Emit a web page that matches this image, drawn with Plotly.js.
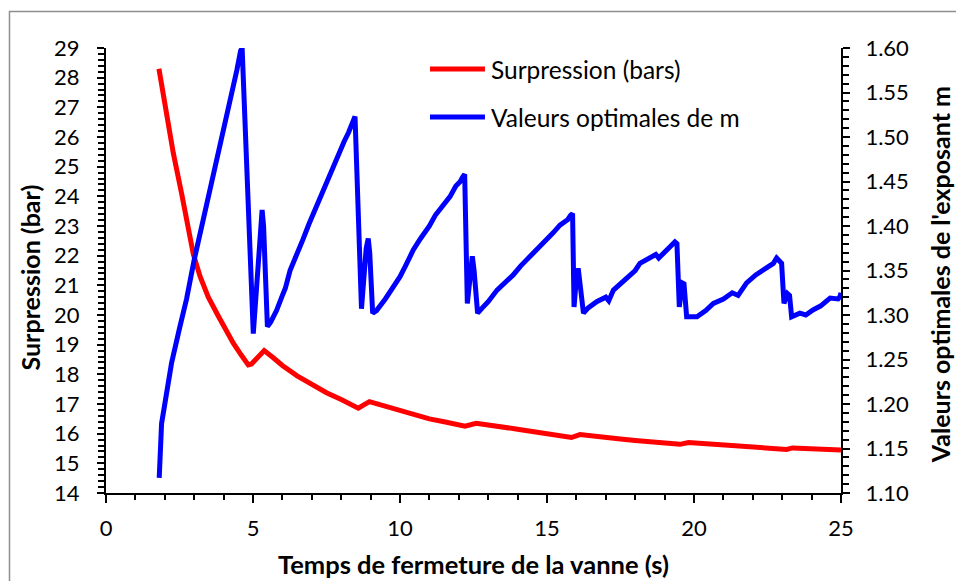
<!DOCTYPE html>
<html>
<head>
<meta charset="utf-8">
<script src="https://cdn.plot.ly/plotly-3.0.1.min.js"></script>
<style>html,body{margin:0;padding:0;background:#fff;}#chart{width:956px;height:581px;}</style>
</head>
<body>
<div id="chart"></div>
<script>
// Surpression (bar) - left axis
const surpTime = [1.8, 1.9, 2.06, 2.29, 2.57, 2.8, 2.97, 3.2, 3.48, 3.8, 4.1, 4.33, 4.6, 4.84, 4.95, 5.38, 5.7, 6.0, 6.5, 7.0, 7.5, 8.0, 8.3, 8.58, 8.96, 9.5, 10, 10.5, 11, 11.5, 12.0, 12.21, 12.59, 13, 13.5, 14, 14.5, 15, 15.5, 15.83, 16.12, 16.5, 17, 17.5, 18, 18.5, 19, 19.52, 19.81, 20.5, 21, 21.5, 22, 22.5, 23.15, 23.35, 24, 24.5, 25];
const surpValues = [28.3, 27.7, 26.9, 25.45, 24.1, 22.95, 22.05, 21.3, 20.6, 20.0, 19.45, 19.05, 18.65, 18.32, 18.35, 18.8, 18.55, 18.3, 17.95, 17.65, 17.38, 17.15, 17.0, 16.86, 17.08, 16.92, 16.78, 16.63, 16.5, 16.4, 16.3, 16.25, 16.35, 16.3, 16.22, 16.15, 16.07, 16.0, 15.93, 15.87, 15.97, 15.94, 15.88, 15.82, 15.77, 15.72, 15.68, 15.64, 15.70, 15.65, 15.6, 15.57, 15.54, 15.52, 15.47, 15.52, 15.49, 15.47, 15.45];

// Valeurs optimales de m - right axis
const mTime = [1.81, 1.84, 1.89, 2.0, 2.23, 2.5, 2.74, 3.0, 3.3, 3.6, 3.88, 4.2, 4.45, 4.58, 4.63, 5.01, 5.2, 5.31, 5.36, 5.49, 5.6, 5.8, 6.0, 6.1, 6.26, 6.5, 6.7, 6.9, 7.1, 7.3, 7.5, 7.7, 7.9, 8.1, 8.25, 8.35, 8.41, 8.47, 8.69, 8.85, 8.92, 8.97, 9.07, 9.2, 9.5, 9.8, 10.0, 10.2, 10.45, 10.7, 11.0, 11.2, 11.5, 11.7, 11.9, 12.05, 12.13, 12.2, 12.29, 12.42, 12.46, 12.52, 12.64, 12.8, 13.0, 13.3, 13.6, 13.85, 14.1, 14.4, 14.7, 14.99, 15.2, 15.44, 15.6, 15.7, 15.8, 15.87, 15.92, 16.02, 16.07, 16.12, 16.24, 16.4, 16.69, 17.0, 17.1, 17.26, 17.5, 17.8, 18.0, 18.16, 18.4, 18.7, 18.8, 19.07, 19.2, 19.35, 19.42, 19.5, 19.6, 19.66, 19.75, 20.1, 20.4, 20.66, 21.0, 21.3, 21.5, 21.79, 22.1, 22.47, 22.7, 22.81, 22.98, 23.06, 23.18, 23.25, 23.32, 23.6, 23.8, 24.06, 24.3, 24.63, 24.9, 24.97, 25.0];
const mValues = [1.117, 1.15, 1.178, 1.20, 1.246, 1.285, 1.318, 1.362, 1.405, 1.448, 1.489, 1.537, 1.575, 1.597, 1.600, 1.279, 1.37, 1.418, 1.40, 1.287, 1.292, 1.305, 1.322, 1.33, 1.35, 1.368, 1.385, 1.402, 1.418, 1.432, 1.448, 1.463, 1.48, 1.495, 1.505, 1.512, 1.519, 1.523, 1.307, 1.375, 1.386, 1.37, 1.302, 1.305, 1.318, 1.333, 1.343, 1.356, 1.373, 1.386, 1.40, 1.412, 1.424, 1.433, 1.445, 1.45, 1.455, 1.458, 1.313, 1.362, 1.366, 1.35, 1.302, 1.308, 1.315, 1.328, 1.337, 1.345, 1.355, 1.365, 1.374, 1.384, 1.392, 1.401, 1.405, 1.407, 1.412, 1.414, 1.309, 1.35, 1.35, 1.335, 1.302, 1.308, 1.315, 1.32, 1.316, 1.328, 1.335, 1.345, 1.35, 1.358, 1.363, 1.368, 1.364, 1.373, 1.378, 1.382, 1.38, 1.309, 1.336, 1.335, 1.298, 1.298, 1.305, 1.313, 1.318, 1.325, 1.322, 1.336, 1.345, 1.354, 1.358, 1.364, 1.358, 1.313, 1.324, 1.322, 1.298, 1.302, 1.300, 1.306, 1.31, 1.319, 1.318, 1.321, 1.325];

const names = ['Surpression (bars)', 'Valeurs optimales de m'];
const colors = ['#ff0000', '#0000ff'];
const xTitle = 'Temps de fermeture de la vanne (s)';
const yTitle = 'Surpression (bar)';
const y2Title = "Valeurs optimales de l'exposant m";

const FONT = 'Lato, "Open Sans", sans-serif';

const traces = [
  {x: surpTime, y: surpValues, name: names[0], type: 'scatter', mode: 'lines',
   line: {color: colors[0], width: 5}, yaxis: 'y', showlegend: false},
  {x: mTime, y: mValues, name: names[1], type: 'scatter', mode: 'lines',
   line: {color: colors[1], width: 5}, yaxis: 'y2', showlegend: false}
];

const tickFont = {family: FONT, size: 22, color: '#000'};
const titleFont = {family: FONT, size: 25, color: '#000', weight: 'bold'};
const xTitleFont = {family: FONT, size: 25.5, color: '#000', weight: 'bold'};
const legendFont = {family: FONT, size: 24.5, color: '#000'};

// legend (drawn as layout items, placed in paper coordinates)
const legY = [0.9528, 0.8449];
const legendShapes = names.map((n, i) => ({type: 'line', xref: 'paper', yref: 'paper',
  x0: 0.4408, x1: 0.5156, y0: legY[i], y1: legY[i], line: {color: colors[i], width: 5}}));
const legendText = names.map((n, i) => ({text: n, xref: 'paper', yref: 'paper', x: 0.5211, y: legY[i],
  xanchor: 'left', yanchor: 'middle', showarrow: false, font: legendFont}));

const layout = {
  width: 956, height: 581,
  margin: {l: 106, r: 115, t: 48, b: 88},
  paper_bgcolor: '#fff', plot_bgcolor: '#fff',
  showlegend: false,
  xaxis: {range: [0, 25], dtick: 5, tick0: 0, showgrid: false, zeroline: false,
          showline: true, linecolor: '#000', linewidth: 2,
          ticks: 'outside', ticklen: 8, tickwidth: 2, tickcolor: '#000',
          tickfont: tickFont, ticklabelstandoff: 7,
          minor: {dtick: 1, ticks: 'outside', ticklen: 5, tickwidth: 2, tickcolor: '#000', showgrid: false}},
  yaxis: {range: [14, 29], dtick: 1, tick0: 14, showgrid: false, zeroline: false,
          showline: true, linecolor: '#000', linewidth: 2,
          ticks: 'outside', ticklen: 7, tickwidth: 2, tickcolor: '#000',
          tickfont: tickFont, ticklabelstandoff: 13,
          minor: {dtick: 0.2, ticks: 'outside', ticklen: 6, tickwidth: 2, tickcolor: '#000', showgrid: false}},
  yaxis2: {range: [1.10, 1.60], dtick: 0.05, tick0: 1.10, tickformat: '.2f', overlaying: 'y', side: 'right',
          showgrid: false, zeroline: false,
          showline: true, linecolor: '#000', linewidth: 2,
          ticks: 'outside', ticklen: 7, tickwidth: 2, tickcolor: '#000',
          tickfont: tickFont, ticklabelstandoff: 11,
          minor: {dtick: 0.01, ticks: 'outside', ticklen: 6, tickwidth: 2, tickcolor: '#000', showgrid: false}},
  shapes: [
    {type: 'rect', xref: 'paper', yref: 'paper', x0: -0.1313, x1: 1.3, y0: -0.4, y1: 1.082,
     line: {color: '#8f8f8f', width: 1.5}, fillcolor: 'rgba(0,0,0,0)', layer: 'below'}
  ].concat(legendShapes),
  annotations: [
    {text: xTitle, xref: 'paper', yref: 'paper', x: 0.5, y: -0.16, xanchor: 'center', yanchor: 'middle',
     showarrow: false, font: xTitleFont},
    {text: yTitle, xref: 'paper', yref: 'paper', x: -0.103, y: 0.485, xanchor: 'center', yanchor: 'middle',
     textangle: -90, showarrow: false, font: titleFont},
    {text: y2Title, xref: 'paper', yref: 'paper', x: 1.135, y: 0.49, xanchor: 'center', yanchor: 'middle',
     textangle: -90, showarrow: false, font: titleFont}
  ].concat(legendText)
};

Plotly.newPlot('chart', traces, layout, {displayModeBar: false, staticPlot: true});
</script>
</body>
</html>
